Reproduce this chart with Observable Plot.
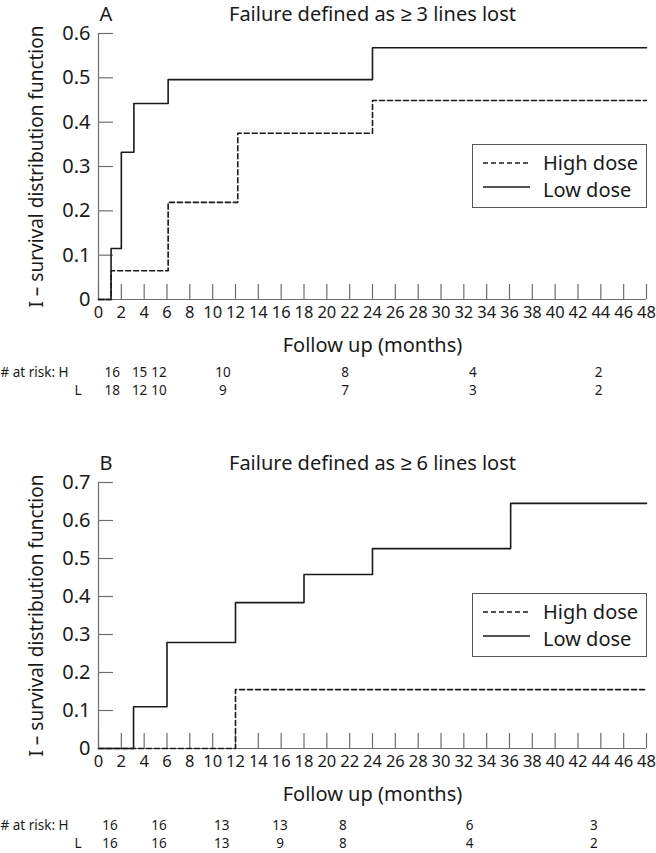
<!DOCTYPE html>
<html>
<head>
<meta charset="utf-8">
<script src="https://cdn.jsdelivr.net/npm/d3@7"></script>
<script src="https://cdn.jsdelivr.net/npm/@observablehq/plot@0.6"></script>
<style>
  html, body { margin: 0; padding: 0; background: #fff; }
  body { width: 656px; font-family: "Noto Sans", sans-serif; color: #1a1a1a; }
  .panel { position: relative; width: 656px; }
  .panel svg { display: block; }
  .legend { position: absolute; }
</style>
</head>
<body>
<div id="chart"></div>
<script>
// ---------- data ----------
const xTicks = [0,2,4,6,8,10,12,14,16,18,20,22,24,26,28,30,32,34,36,38,40,42,44,46,48];
const yTicksA = [0, 0.1, 0.2, 0.3, 0.4, 0.5, 0.6];
const yTicksB = [0, 0.1, 0.2, 0.3, 0.4, 0.5, 0.6, 0.7];

// Panel A: failure = >= 3 lines lost
const aHighMonths = [0, 1.1, 6.1, 12.2, 24, 48];
const aHighValues = [0, 0.065, 0.219, 0.375, 0.449, 0.449];
const aLowMonths  = [0, 1.1, 2.0, 3.1, 6.1, 24, 48];
const aLowValues  = [0, 0.115, 0.332, 0.442, 0.496, 0.568, 0.568];

// Panel B: failure = >= 6 lines lost
const bHighMonths = [0, 12, 48];
const bHighValues = [0, 0.155, 0.155];
const bLowMonths  = [0, 3.07, 6.0, 12.0, 18.0, 24.0, 36.1, 48];
const bLowValues  = [0, 0.11, 0.279, 0.384, 0.458, 0.526, 0.645, 0.645];

// Numbers at risk
const aRiskMonths = [1.2, 3.6, 5.3, 10.9, 21.6, 32.8, 43.8];
const aRiskHigh   = [16, 15, 12, 10, 8, 4, 2];
const aRiskLow    = [18, 12, 10, 9, 7, 3, 2];
const bRiskMonths = [1.0, 5.3, 10.8, 15.9, 21.4, 32.5, 43.4];
const bRiskHigh   = [16, 16, 13, 13, 8, 6, 3];
const bRiskLow    = [16, 16, 13, 9, 8, 4, 2];

const seriesNames = ["High dose", "Low dose"];
const titles = ["Failure defined as \u2265 3 lines lost", "Failure defined as \u2265 6 lines lost"];
const panelLetters = ["A", "B"];
const yLabel = "I \u2013 survival distribution function";
const xLabel = "Follow up (months)";
const riskLabel = "# at risk: H";

// ---------- drawing ----------
const INK = "#1a1a1a";
const AXIS = "#6e6e6e";
const FONT = "Noto Sans, sans-serif";

function toRows(months, values) { return months.map((m, i) => ({m, v: values[i]})); }

function panel(cfg) {
  const W = 656, mL = 98, mR = 10;
  const frameW = W - mL - mR;
  const frameH = 266;
  const high = toRows(cfg.highM, cfg.highV);
  const low = toRows(cfg.lowM, cfg.lowV);
  const riskH = cfg.riskM.map((m, i) => ({m, n: cfg.riskH[i]}));
  const riskL = cfg.riskM.map((m, i) => ({m, n: cfg.riskL[i]}));
  const plot = Plot.plot({
    width: W,
    height: cfg.height,
    marginTop: cfg.marginTop,
    marginBottom: cfg.height - cfg.marginTop - frameH,
    marginLeft: mL,
    marginRight: mR,
    style: {fontFamily: FONT, color: INK, background: "white"},
    x: {domain: [0, 48], axis: null},
    y: {domain: cfg.yDomain, axis: null},
    marks: [
      Plot.ruleY([0], {stroke: AXIS, strokeWidth: 1.2}),
      Plot.ruleX([0], {stroke: AXIS, strokeWidth: 1.2}),
      Plot.tickX(xTicks, {x: d => d, insetTop: frameH - 15, stroke: AXIS, strokeWidth: 1.2}),
      Plot.tickY(cfg.yTicks, {y: d => d, insetRight: frameW - 15, stroke: AXIS, strokeWidth: 1.2}),
      Plot.axisX({ticks: xTicks, tickSize: 0, tickPadding: 7, fontSize: 16.5, tickFormat: d => String(d), label: null}),
      Plot.axisY({ticks: cfg.yTicks, tickSize: 0, tickPadding: 8, fontSize: 20, tickFormat: d => d === 0 ? "0" : d.toFixed(1), label: null}),
      Plot.line(high, {x: "m", y: "v", curve: "step-after", stroke: INK, strokeWidth: 1.6, strokeDasharray: "5,3"}),
      Plot.line(low, {x: "m", y: "v", curve: "step-after", stroke: INK, strokeWidth: 1.6}),
      Plot.text([cfg.letter], {frameAnchor: "top-left", dx: 1, dy: -13, lineAnchor: "bottom", textAnchor: "start", fontSize: 20, fill: INK}),
      Plot.text([cfg.title], {frameAnchor: "top", dy: -13, lineAnchor: "bottom", fontSize: 20, fill: INK}),
      Plot.text([yLabel], {frameAnchor: "left", dx: -62, rotate: -90, textAnchor: "middle", fontSize: 19, fill: INK}),
      Plot.text([xLabel], {frameAnchor: "bottom", dy: 46, lineAnchor: "middle", fontSize: 20, fill: INK}),
      Plot.text(riskH, {x: "m", text: d => String(d.n), frameAnchor: "bottom", dy: cfg.riskDyH, lineAnchor: "middle", fontSize: 13.5, fill: INK}),
      Plot.text(riskL, {x: "m", text: d => String(d.n), frameAnchor: "bottom", dy: cfg.riskDyL, lineAnchor: "middle", fontSize: 13.5, fill: INK}),
      Plot.text([riskLabel], {frameAnchor: "bottom-left", dx: -98, dy: cfg.riskDyH, lineAnchor: "middle", textAnchor: "start", fontSize: 13.5, fill: INK}),
      Plot.text(["L"], {frameAnchor: "bottom-left", dx: -24, dy: cfg.riskDyL, lineAnchor: "middle", textAnchor: "start", fontSize: 13.5, fill: INK})
    ]
  });
  const wrap = document.createElement("div");
  wrap.className = "panel";
  wrap.appendChild(plot);
  // legend box
  const lg = d3.create("svg").attr("class", "legend").attr("width", 176).attr("height", 64)
    .style("left", "472px").style("top", cfg.legendTop + "px");
  lg.append("rect").attr("x", 0.5).attr("y", 0.5).attr("width", 174).attr("height", 63)
    .attr("fill", "white").attr("stroke", "#555").attr("stroke-width", 1);
  lg.append("line").attr("x1", 11).attr("x2", 58).attr("y1", 19).attr("y2", 19)
    .attr("stroke", INK).attr("stroke-width", 1.6).attr("stroke-dasharray", "5,3");
  lg.append("line").attr("x1", 11).attr("x2", 58).attr("y1", 43).attr("y2", 43)
    .attr("stroke", INK).attr("stroke-width", 1.6);
  lg.append("text").attr("x", 71).attr("y", 26).attr("font-size", 20).attr("font-family", FONT).attr("fill", INK).text(seriesNames[0]);
  lg.append("text").attr("x", 71).attr("y", 53).attr("font-size", 20).attr("font-family", FONT).attr("fill", INK).text(seriesNames[1]);
  wrap.appendChild(lg.node());
  return wrap;
}

const chart = document.getElementById("chart");
chart.appendChild(panel({
  height: 420, marginTop: 33, yDomain: [0, 0.6], yTicks: yTicksA,
  highM: aHighMonths, highV: aHighValues, lowM: aLowMonths, lowV: aLowValues,
  riskM: aRiskMonths, riskH: aRiskHigh, riskL: aRiskLow, riskDyH: 73, riskDyL: 91,
  letter: panelLetters[0], title: titles[0], legendTop: 144
}));
chart.appendChild(panel({
  height: 433, marginTop: 62, yDomain: [0, 0.7], yTicks: yTicksB,
  highM: bHighMonths, highV: bHighValues, lowM: bLowMonths, lowV: bLowValues,
  riskM: bRiskMonths, riskH: bRiskHigh, riskL: bRiskLow, riskDyH: 77, riskDyL: 95,
  letter: panelLetters[1], title: titles[1], legendTop: 173
}));
</script>
</body>
</html>
